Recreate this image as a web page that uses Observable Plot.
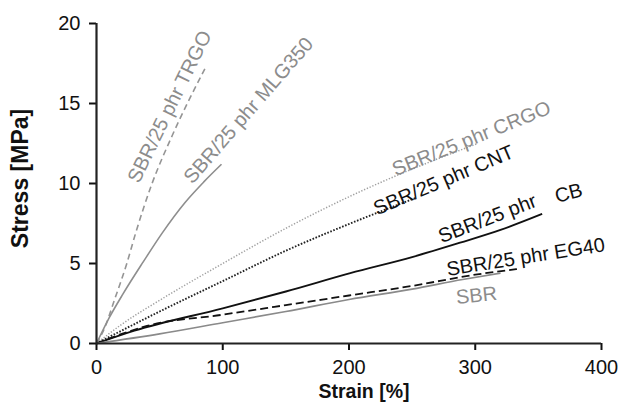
<!DOCTYPE html>
<html><head><meta charset="utf-8">
<script src="https://cdn.jsdelivr.net/npm/d3@7"></script>
<script src="https://cdn.jsdelivr.net/npm/@observablehq/plot@0.6"></script>
<style>body{margin:0;background:#fff;font-family:"Liberation Sans",Arial,sans-serif}</style>
</head><body><div id="chart"></div>
<script>
// ---- data ----
const xTicks = [0, 100, 200, 300, 400];
const yTicks = [0, 5, 10, 15, 20];

const trgoStrain = [0, 5.5, 15, 24, 31, 44, 60, 86];
const trgoStress = [0, 0.8, 2.9, 5.0, 6.9, 10.0, 13.0, 17.2];

const mlgStrain = [0, 10, 21, 37, 52, 70, 85, 99];
const mlgStress = [0, 1.6, 3.1, 5.1, 6.9, 8.8, 10.1, 11.2];

const crgoStrain = [0, 20, 50, 100, 150, 209, 250, 302];
const crgoStress = [0, 1.2, 2.7, 5.0, 7.2, 9.5, 10.9, 12.5];

const cntStrain = [0, 50, 100, 150, 201, 253];
const cntStress = [0, 2.0, 3.9, 5.8, 7.5, 9.1];

const cbStrain = [0, 30, 100, 150, 201, 250, 288, 320, 353];
const cbStress = [0, 0.8, 2.2, 3.25, 4.4, 5.4, 6.3, 7.1, 8.1];

const eg40Strain = [0, 20, 40, 100, 150, 200, 250, 300, 333];
const eg40Stress = [0, 0.6, 1.1, 1.8, 2.4, 3.0, 3.6, 4.3, 4.65];

const sbrStrain = [0, 50, 100, 150, 200, 250, 290, 320];
const sbrStress = [0, 0.6, 1.3, 2.0, 2.75, 3.4, 4.0, 4.4];

const seriesNames = ["TRGO", "MLG350", "CRGO", "CNT", "CB", "EG40", "SBR"];
const seriesStrain = [trgoStrain, mlgStrain, crgoStrain, cntStrain, cbStrain, eg40Strain, sbrStrain];
const seriesStress = [trgoStress, mlgStress, crgoStress, cntStress, cbStress, eg40Stress, sbrStress];

const labelTexts = ["SBR/25 phr TRGO", "SBR/25 phr MLG350", "SBR/25 phr CRGO", "SBR/25 phr CNT", "SBR/25 phr", "CB", "SBR/25 phr EG40", "SBR"];
const labelStrain = [58, 120.4, 297, 275, 309.7, 374, 340, 301];
const labelStress = [14.8, 14.56, 12.8, 10.2, 7.8, 9.4, 5.4, 3.0];

// ---- styles ----
const styles = {
  TRGO:   {stroke: "#959595", strokeWidth: 1.6, strokeDasharray: "6,4"},
  MLG350: {stroke: "#8e8e8e", strokeWidth: 1.6},
  CRGO:   {stroke: "#a0a0a0", strokeWidth: 1.5, strokeDasharray: "1.3,1.7"},
  CNT:    {stroke: "#222", strokeWidth: 1.9, strokeDasharray: "1.6,1.6"},
  CB:     {stroke: "#111", strokeWidth: 1.9},
  EG40:   {stroke: "#111", strokeWidth: 1.8, strokeDasharray: "8,4"},
  SBR:    {stroke: "#8a8a8a", strokeWidth: 1.6}
};
const labelAngles = [-64, -49, -22, -23, -21, -15, -9, -6];
const labelColors = ["#8c8c8c", "#8c8c8c", "#8c8c8c", "#111", "#111", "#111", "#111", "#8c8c8c"];

const lineMarks = seriesNames.map((name, i) => {
  const rows = seriesStrain[i].map((s, j) => ({strain: s, stress: seriesStress[i][j]}));
  return Plot.line(rows, {x: "strain", y: "stress", curve: "monotone-x", strokeLinecap: "butt", ...styles[name]});
});

const labelRows = labelTexts.map((t, i) => ({text: t, x: labelStrain[i], y: labelStress[i], angle: labelAngles[i], color: labelColors[i]}));
const labelMarks = labelRows.map(r => Plot.text([r], {x: "x", y: "y", text: "text", rotate: r.angle, fill: r.color, fontSize: 20}));

const chart = Plot.plot({
  width: 619,
  height: 404,
  marginLeft: 96,
  marginRight: 18,
  marginTop: 23,
  marginBottom: 61,
  style: {fontFamily: "'Liberation Sans', Arial, sans-serif", fontSize: "20px", color: "#111", background: "#fff"},
  x: {domain: [0, 400]},
  y: {domain: [0, 20]},
  marks: [
    Plot.axisX(xTicks, {tickSize: 7, tickPadding: 9, strokeWidth: 2, color: "#111", fontSize: 20, label: null}),
    Plot.axisY(yTicks, {tickSize: 7, tickPadding: 9, strokeWidth: 2, color: "#111", fontSize: 20, label: null}),
    ...lineMarks,
    ...labelMarks,
    Plot.ruleX([0], {stroke: "#222", strokeWidth: 2.2}),
    Plot.ruleY([0], {stroke: "#222", strokeWidth: 2.2}),
    Plot.text(["Strain [%]"], {frameAnchor: "bottom", lineAnchor: "middle", textAnchor: "middle", dx: 15, dy: 48, fontWeight: "bold", fontSize: 19.5, fill: "#111"}),
    Plot.text(["Stress [MPa]"], {frameAnchor: "left", textAnchor: "middle", lineAnchor: "middle", rotate: -90, dx: -76, dy: -5, fontWeight: "bold", fontSize: 23, fill: "#111"})
  ]
});
document.getElementById("chart").appendChild(chart);
</script>
</body></html>
